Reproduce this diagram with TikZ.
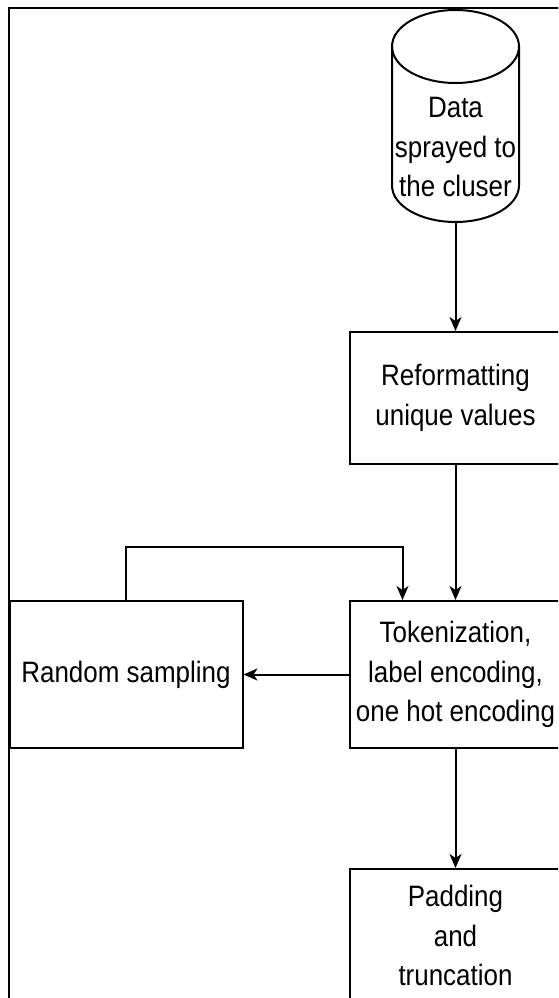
\documentclass[tikz,border=0pt]{standalone}
\usepackage{fontspec}
\setmainfont{Liberation Sans}[FakeStretch=0.88]
\usetikzlibrary{arrows.meta,positioning}
\definecolor{ln}{RGB}{0,0,0}
\tikzset{
  pb/.style={rectangle,draw=ln,line width=2pt,fill=white,
    minimum width=#1,align=center,font=\fontsize{29.5}{39.5}\selectfont,
    inner sep=0pt},
  pb/.default=212pt,
  dtext/.style={align=center,font=\fontsize{29.5}{39.5}\selectfont,inner sep=0pt},
  dline/.style={draw=ln,line width=2pt},
  arr/.style={-{Stealth[length=14pt,width=12pt,inset=4pt]},line width=2pt,color=ln},
}
\begin{document}
\begin{tikzpicture}[x=1pt,y=-1pt]
    \useasboundingbox (0,0) rectangle (558,998);
    \clip (0,0) rectangle (558,998);
    \draw[line width=2.5pt] (9,1010) -- (9,8) -- (570,8);
    % data store drawn as a cylinder
    \draw[dline] (455.5,46.5) ellipse [x radius=63.5,y radius=36.5];
    \draw[dline] (392,46.5) -- (392,185.5)
      arc[start angle=180,end angle=0,x radius=63.5,y radius=36.5] -- (519,46.5);
    \node[dtext] (data) at (455.5,147) {Data\\sprayed to\\the cluser};
    \coordinate (dbot) at (455.5,222);
    \node[pb,minimum height=132pt,below=109pt of dbot] (ref)
      {Reformatting\\unique values};
    \node[pb,minimum height=147pt,below=135pt of ref] (tok)
      {Tokenization,\\label encoding,\\one hot encoding};
    \node[pb=233pt,minimum height=147pt,left=105pt of tok] (rand)
      {Random sampling};
    \node[pb,minimum height=133pt,below=119pt of tok] (pad)
      {Padding\\and\\truncation};
    \coordinate (loop) at ([xshift=-53pt,yshift=53pt]tok.north);
    \draw[arr] (dbot) -- (ref.north);
    \draw[arr] (ref.south) -- (tok.north);
    \draw[arr] (tok.west) -- (rand.east);
    \draw[arr] (rand.north) |- (loop) -- ([xshift=-53pt]tok.north);
    \draw[arr] (tok.south) -- (pad.north);
  \end{tikzpicture}
\end{document}
